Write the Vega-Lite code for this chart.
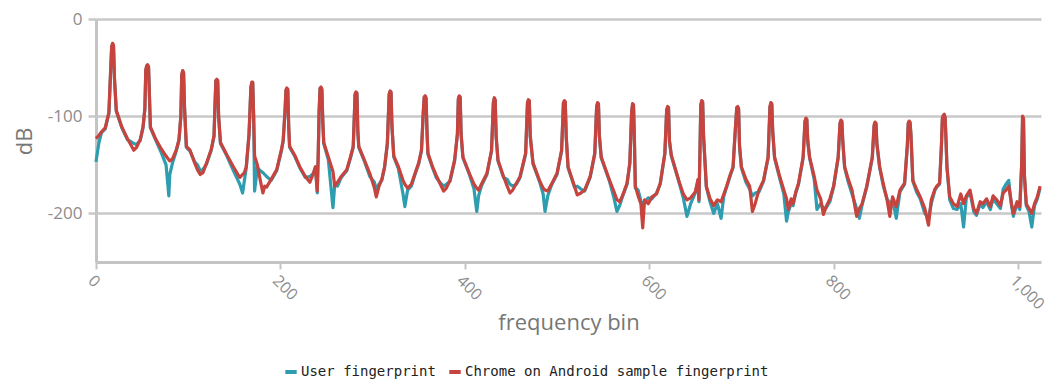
{
  "$schema": "https://vega.github.io/schema/vega-lite/v6.json",
  "width": 945,
  "height": 243,
  "autosize": {"type": "none"},
  "padding": {"left": 96, "top": 19, "right": 10, "bottom": 118},
  "background": "white",
  "config": {"view": {"stroke": null}},
  "data": {"values": [
    {"x":0,"c":-123,"u":-147},{"x":3,"c":-120,"u":-128},{"x":6,"c":-116,"u":-117},{"x":10,"c":-112,"u":-113},{"x":14,"c":-96,"u":-97},{"x":16,"c":-50,"u":-51},{"x":17,"c":-28,"u":-29},{"x":18,"c":-25,"u":-26},{"x":19,"c":-27,"u":-28},{"x":20,"c":-60,"u":-61},{"x":22,"c":-94,"u":-95},{"x":28,"c":-111,"u":-112},{"x":34,"c":-123,"u":-124},{"x":41,"c":-135,"u":-128},{"x":44,"c":-132,"u":-129},{"x":48,"c":-124,"u":-125},
    {"x":51,"c":-111,"u":-112},{"x":53,"c":-92,"u":-93},{"x":54,"c":-52,"u":-53},{"x":55,"c":-48,"u":-49},{"x":56,"c":-47,"u":-48},{"x":57,"c":-49,"u":-50},{"x":58,"c":-80,"u":-81},{"x":59,"c":-111,"u":-112},{"x":65,"c":-124,"u":-125},{"x":71,"c":-134,"u":-138},{"x":76,"c":-141,"u":-150},{"x":79,"c":-145,"u":-182},{"x":80,"c":-146,"u":-160},{"x":83,"c":-144,"u":-148},{"x":87,"c":-135,"u":-136},
    {"x":90,"c":-124,"u":-125},{"x":92,"c":-100,"u":-101},{"x":93,"c":-57,"u":-58},{"x":94,"c":-53,"u":-54},{"x":95,"c":-55,"u":-56},{"x":96,"c":-90,"u":-91},{"x":98,"c":-131,"u":-132},{"x":102,"c":-135,"u":-136},{"x":107,"c":-148,"u":-147},{"x":110,"c":-155,"u":-150},{"x":113,"c":-160,"u":-156},{"x":116,"c":-158,"u":-155},{"x":120,"c":-148,"u":-149},{"x":125,"c":-134,"u":-135},
    {"x":128,"c":-120,"u":-121},{"x":129,"c":-90,"u":-91},{"x":130,"c":-63,"u":-64},{"x":131,"c":-62,"u":-63},{"x":132,"c":-63,"u":-64},{"x":133,"c":-100,"u":-101},{"x":135,"c":-127,"u":-128},{"x":142,"c":-140,"u":-141},{"x":149,"c":-152,"u":-156},{"x":154,"c":-160,"u":-166},{"x":156,"c":-163,"u":-170},{"x":159,"c":-160,"u":-179},{"x":161,"c":-158,"u":-166},{"x":163,"c":-152,"u":-153},
    {"x":166,"c":-118,"u":-119},{"x":168,"c":-70,"u":-71},{"x":169,"c":-65,"u":-66},{"x":170,"c":-65,"u":-66},{"x":171,"c":-100,"u":-101},{"x":172,"c":-141,"u":-177},{"x":175,"c":-150,"u":-153},{"x":178,"c":-165,"u":-156},{"x":181,"c":-179,"u":-158},{"x":183,"c":-172,"u":-160},{"x":185,"c":-173,"u":-162},{"x":190,"c":-165,"u":-166},{"x":196,"c":-155,"u":-156},{"x":201,"c":-135,"u":-136},
    {"x":203,"c":-125,"u":-126},{"x":205,"c":-95,"u":-96},{"x":206,"c":-73,"u":-74},{"x":207,"c":-71,"u":-72},{"x":208,"c":-72,"u":-73},{"x":209,"c":-110,"u":-111},{"x":210,"c":-131,"u":-132},{"x":216,"c":-141,"u":-142},{"x":221,"c":-152,"u":-153},{"x":227,"c":-162,"u":-163},{"x":232,"c":-168,"u":-162},{"x":236,"c":-158,"u":-159},{"x":238,"c":-152,"u":-153},{"x":240,"c":-177,"u":-179},
    {"x":241,"c":-140,"u":-141},{"x":242,"c":-95,"u":-96},{"x":243,"c":-71,"u":-72},{"x":244,"c":-70,"u":-71},{"x":245,"c":-72,"u":-73},{"x":246,"c":-105,"u":-106},{"x":247,"c":-127,"u":-128},{"x":252,"c":-142,"u":-145},{"x":257,"c":-157,"u":-194},{"x":259,"c":-172,"u":-170},{"x":262,"c":-168,"u":-172},{"x":266,"c":-162,"u":-163},{"x":272,"c":-155,"u":-156},{"x":276,"c":-142,"u":-143},
    {"x":279,"c":-131,"u":-132},{"x":280,"c":-105,"u":-106},{"x":281,"c":-77,"u":-78},{"x":282,"c":-75,"u":-76},{"x":283,"c":-76,"u":-77},{"x":284,"c":-115,"u":-116},{"x":285,"c":-131,"u":-132},{"x":291,"c":-145,"u":-146},{"x":297,"c":-159,"u":-162},{"x":302,"c":-174,"u":-168},{"x":304,"c":-183,"u":-175},{"x":307,"c":-172,"u":-170},{"x":310,"c":-165,"u":-166},{"x":313,"c":-152,"u":-153},
    {"x":316,"c":-128,"u":-129},{"x":318,"c":-77,"u":-78},{"x":319,"c":-74,"u":-75},{"x":320,"c":-75,"u":-76},{"x":321,"c":-110,"u":-111},{"x":323,"c":-141,"u":-142},{"x":328,"c":-152,"u":-154},{"x":333,"c":-166,"u":-180},{"x":335,"c":-170,"u":-193},{"x":338,"c":-174,"u":-176},{"x":342,"c":-170,"u":-172},{"x":346,"c":-159,"u":-160},{"x":350,"c":-148,"u":-149},{"x":353,"c":-135,"u":-136},
    {"x":355,"c":-95,"u":-96},{"x":356,"c":-80,"u":-81},{"x":357,"c":-79,"u":-80},{"x":358,"c":-81,"u":-82},{"x":359,"c":-115,"u":-116},{"x":360,"c":-138,"u":-139},{"x":365,"c":-152,"u":-153},{"x":369,"c":-161,"u":-163},{"x":373,"c":-169,"u":-168},{"x":377,"c":-177,"u":-172},{"x":380,"c":-174,"u":-170},{"x":384,"c":-166,"u":-167},{"x":389,"c":-145,"u":-146},
    {"x":392,"c":-118,"u":-119},{"x":393,"c":-82,"u":-83},{"x":394,"c":-79,"u":-80},{"x":395,"c":-80,"u":-81},{"x":396,"c":-118,"u":-119},{"x":398,"c":-142,"u":-143},{"x":405,"c":-159,"u":-160},{"x":410,"c":-170,"u":-175},{"x":413,"c":-174,"u":-198},{"x":415,"c":-176,"u":-182},{"x":418,"c":-170,"u":-172},{"x":424,"c":-159,"u":-160},{"x":429,"c":-135,"u":-136},
    {"x":431,"c":-86,"u":-87},{"x":432,"c":-81,"u":-82},{"x":433,"c":-83,"u":-84},{"x":434,"c":-120,"u":-121},{"x":436,"c":-145,"u":-146},{"x":442,"c":-162,"u":-163},{"x":446,"c":-172,"u":-165},{"x":449,"c":-179,"u":-170},{"x":452,"c":-176,"u":-172},{"x":456,"c":-169,"u":-170},{"x":460,"c":-162,"u":-163},{"x":466,"c":-138,"u":-139},
    {"x":468,"c":-86,"u":-87},{"x":469,"c":-83,"u":-84},{"x":470,"c":-84,"u":-85},{"x":471,"c":-120,"u":-121},{"x":474,"c":-148,"u":-149},{"x":481,"c":-166,"u":-167},{"x":485,"c":-174,"u":-180},{"x":487,"c":-176,"u":-198},{"x":490,"c":-177,"u":-182},{"x":494,"c":-170,"u":-171},{"x":500,"c":-159,"u":-160},{"x":505,"c":-135,"u":-136},
    {"x":507,"c":-86,"u":-87},{"x":508,"c":-84,"u":-85},{"x":509,"c":-85,"u":-86},{"x":510,"c":-120,"u":-121},{"x":512,"c":-152,"u":-153},{"x":519,"c":-172,"u":-173},{"x":522,"c":-181,"u":-172},{"x":526,"c":-179,"u":-175},{"x":530,"c":-176,"u":-177},{"x":536,"c":-162,"u":-163},{"x":541,"c":-138,"u":-139},
    {"x":543,"c":-90,"u":-91},{"x":544,"c":-86,"u":-87},{"x":545,"c":-87,"u":-88},{"x":546,"c":-120,"u":-121},{"x":548,"c":-142,"u":-143},{"x":557,"c":-166,"u":-167},{"x":562,"c":-178,"u":-185},{"x":565,"c":-186,"u":-198},{"x":568,"c":-188,"u":-192},{"x":571,"c":-182,"u":-183},{"x":576,"c":-169,"u":-170},{"x":579,"c":-148,"u":-149},
    {"x":581,"c":-95,"u":-96},{"x":582,"c":-87,"u":-88},{"x":583,"c":-88,"u":-89},{"x":584,"c":-125,"u":-126},{"x":585,"c":-172,"u":-174},{"x":588,"c":-182,"u":-176},{"x":591,"c":-190,"u":-187},{"x":593,"c":-215,"u":-190},{"x":595,"c":-186,"u":-188},{"x":599,"c":-190,"u":-184},{"x":603,"c":-183,"u":-185},{"x":608,"c":-180,"u":-179},{"x":612,"c":-169,"u":-170},{"x":617,"c":-138,"u":-139},
    {"x":619,"c":-93,"u":-94},{"x":620,"c":-90,"u":-91},{"x":621,"c":-91,"u":-92},{"x":622,"c":-125,"u":-126},{"x":624,"c":-140,"u":-141},{"x":633,"c":-169,"u":-170},{"x":637,"c":-180,"u":-184},{"x":641,"c":-186,"u":-203},{"x":645,"c":-184,"u":-190},{"x":650,"c":-178,"u":-179},{"x":653,"c":-165,"u":-166},{"x":654,"c":-186,"u":-188},
    {"x":655,"c":-140,"u":-141},{"x":656,"c":-88,"u":-89},{"x":657,"c":-84,"u":-85},{"x":658,"c":-85,"u":-86},{"x":659,"c":-120,"u":-121},{"x":662,"c":-172,"u":-173},{"x":666,"c":-185,"u":-188},{"x":670,"c":-192,"u":-200},{"x":674,"c":-186,"u":-190},{"x":678,"c":-188,"u":-205},{"x":681,"c":-180,"u":-182},{"x":684,"c":-172,"u":-173},{"x":688,"c":-160,"u":-161},{"x":691,"c":-152,"u":-153},
    {"x":693,"c":-120,"u":-121},{"x":695,"c":-91,"u":-92},{"x":696,"c":-90,"u":-91},{"x":697,"c":-92,"u":-93},{"x":698,"c":-130,"u":-131},{"x":700,"c":-152,"u":-153},{"x":705,"c":-165,"u":-168},{"x":709,"c":-172,"u":-175},{"x":712,"c":-198,"u":-182},{"x":715,"c":-190,"u":-179},{"x":719,"c":-176,"u":-178},{"x":724,"c":-166,"u":-167},{"x":729,"c":-142,"u":-143},
    {"x":731,"c":-90,"u":-91},{"x":732,"c":-86,"u":-87},{"x":733,"c":-87,"u":-88},{"x":734,"c":-115,"u":-116},{"x":736,"c":-142,"u":-143},{"x":741,"c":-160,"u":-162},{"x":746,"c":-176,"u":-180},{"x":749,"c":-185,"u":-208},{"x":751,"c":-196,"u":-198},{"x":754,"c":-185,"u":-190},{"x":756,"c":-190,"u":-192},{"x":759,"c":-178,"u":-179},{"x":762,"c":-169,"u":-170},{"x":767,"c":-142,"u":-143},
    {"x":769,"c":-105,"u":-106},{"x":770,"c":-102,"u":-103},{"x":771,"c":-103,"u":-104},{"x":772,"c":-125,"u":-126},{"x":774,"c":-142,"u":-143},{"x":779,"c":-162,"u":-165},{"x":782,"c":-176,"u":-196},{"x":786,"c":-185,"u":-190},{"x":789,"c":-201,"u":-195},{"x":792,"c":-193,"u":-194},{"x":796,"c":-185,"u":-188},{"x":800,"c":-172,"u":-173},{"x":805,"c":-142,"u":-143},
    {"x":807,"c":-107,"u":-108},{"x":808,"c":-104,"u":-105},{"x":809,"c":-105,"u":-106},{"x":810,"c":-125,"u":-126},{"x":812,"c":-152,"u":-153},{"x":816,"c":-165,"u":-168},{"x":820,"c":-176,"u":-180},{"x":825,"c":-203,"u":-195},{"x":828,"c":-195,"u":-205},{"x":831,"c":-190,"u":-191},{"x":836,"c":-172,"u":-173},{"x":842,"c":-142,"u":-143},
    {"x":844,"c":-109,"u":-110},{"x":845,"c":-106,"u":-107},{"x":846,"c":-107,"u":-108},{"x":847,"c":-128,"u":-129},{"x":850,"c":-152,"u":-153},{"x":854,"c":-170,"u":-172},{"x":858,"c":-186,"u":-185},{"x":861,"c":-203,"u":-190},{"x":864,"c":-183,"u":-186},{"x":868,"c":-193,"u":-205},{"x":872,"c":-176,"u":-178},{"x":877,"c":-169,"u":-170},{"x":880,"c":-130,"u":-131},
    {"x":881,"c":-107,"u":-108},{"x":882,"c":-105,"u":-106},{"x":883,"c":-106,"u":-107},{"x":884,"c":-120,"u":-121},{"x":886,"c":-166,"u":-167},{"x":890,"c":-175,"u":-178},{"x":894,"c":-183,"u":-185},{"x":899,"c":-195,"u":-200},{"x":903,"c":-212,"u":-205},{"x":906,"c":-186,"u":-190},{"x":910,"c":-175,"u":-176},{"x":912,"c":-172,"u":-173},{"x":915,"c":-169,"u":-170},{"x":917,"c":-130,"u":-131},
    {"x":918,"c":-102,"u":-103},{"x":919,"c":-99,"u":-100},{"x":920,"c":-98,"u":-99},{"x":921,"c":-101,"u":-102},{"x":922,"c":-125,"u":-126},{"x":923,"c":-152,"u":-153},{"x":926,"c":-183,"u":-186},{"x":930,"c":-190,"u":-195},{"x":934,"c":-193,"u":-196},{"x":938,"c":-180,"u":-190},{"x":941,"c":-190,"u":-214},{"x":944,"c":-182,"u":-184},{"x":948,"c":-176,"u":-178},{"x":952,"c":-195,"u":-198},
    {"x":955,"c":-200,"u":-202},{"x":959,"c":-188,"u":-190},{"x":962,"c":-190,"u":-194},{"x":966,"c":-185,"u":-188},{"x":970,"c":-193,"u":-196},{"x":973,"c":-182,"u":-185},{"x":977,"c":-186,"u":-190},{"x":981,"c":-192,"u":-195},{"x":984,"c":-179,"u":-175},{"x":987,"c":-176,"u":-170},{"x":990,"c":-172,"u":-166},{"x":993,"c":-190,"u":-192},{"x":995,"c":-200,"u":-203},
    {"x":999,"c":-188,"u":-190},{"x":1002,"c":-193,"u":-196},{"x":1004,"c":-150,"u":-151},{"x":1005,"c":-100,"u":-101},{"x":1006,"c":-102,"u":-103},{"x":1007,"c":-160,"u":-161},{"x":1009,"c":-190,"u":-192},{"x":1012,"c":-195,"u":-198},{"x":1015,"c":-200,"u":-214},{"x":1018,"c":-190,"u":-192},{"x":1021,"c":-183,"u":-185},{"x":1024,"c":-172,"u":-174}
  ]},
  "encoding": {
    "x": {
      "field": "x", "type": "quantitative",
      "scale": {"domain": [0, 1025], "nice": false, "zero": false},
      "axis": {
        "title": "frequency bin", "values": [0, 200, 400, 600, 800, 1000], "format": ",d",
        "grid": false, "labelAngle": 45, "labelAlign": "left", "labelBaseline": "top",
        "labelFont": "Open Sans", "labelFontSize": 16, "labelColor": "#8c8c8c", "labelPadding": 3,
        "domainColor": "#c4c4c4", "domainWidth": 3, "tickColor": "#c4c4c4", "tickWidth": 2, "tickSize": 7,
        "titleFont": "Open Sans", "titleFontSize": 22, "titleFontWeight": "normal", "titleColor": "#777777",
        "titleY": 60, "titleBaseline": "middle"
      }
    }
  },
  "layer": [
    {
      "mark": {"type": "line", "strokeWidth": 3.2, "strokeJoin": "round"},
      "encoding": {
        "y": {
          "field": "u", "type": "quantitative",
          "scale": {"domain": [-250, 0], "nice": false},
          "axis": {
            "title": "dB", "values": [0, -100, -200], "labelExpr": "datum.value == 0 ? '0' : '-' + abs(datum.value)",
            "grid": true, "gridColor": "#c8c8c8", "gridWidth": 2.5,
            "domainColor": "#c4c4c4", "domainWidth": 3, "tickColor": "#c8c8c8", "tickWidth": 2.5, "tickSize": 8,
            "labelFont": "Open Sans", "labelFontSize": 17, "labelColor": "#8c8c8c", "labelPadding": 6,
            "titleFont": "Open Sans", "titleFontSize": 22, "titleFontWeight": "normal", "titleColor": "#777777",
            "titleX": -72, "titleY": 122, "titleAngle": -90, "titleAlign": "center", "titleBaseline": "middle"
          }
        },
        "color": {
          "datum": "User fingerprint",
          "scale": {"domain": ["User fingerprint", "Chrome on Android sample fingerprint"], "range": ["#2e9db0", "#c6433e"]},
          "legend": {
            "orient": "none", "legendX": 187, "legendY": 345, "direction": "horizontal", "title": null,
            "symbolType": "stroke", "symbolStrokeWidth": 4, "symbolSize": 130, "labelOffset": 2, "columnPadding": 5,
            "labelFont": "DejaVu Sans Mono", "labelFontSize": 14, "labelColor": "#222222", "labelLimit": 500
          }
        }
      }
    },
    {
      "mark": {"type": "line", "strokeWidth": 3.2, "strokeJoin": "round"},
      "encoding": {
        "y": {
          "field": "c", "type": "quantitative",
          "scale": {"domain": [-250, 0], "nice": false},
          "axis": {
            "title": "dB", "values": [0, -100, -200], "labelExpr": "datum.value == 0 ? '0' : '-' + abs(datum.value)",
            "grid": true, "gridColor": "#c8c8c8", "gridWidth": 2.5,
            "domainColor": "#c4c4c4", "domainWidth": 3, "tickColor": "#c8c8c8", "tickWidth": 2.5, "tickSize": 8,
            "labelFont": "Open Sans", "labelFontSize": 17, "labelColor": "#8c8c8c", "labelPadding": 6,
            "titleFont": "Open Sans", "titleFontSize": 22, "titleFontWeight": "normal", "titleColor": "#777777",
            "titleX": -72, "titleY": 122, "titleAngle": -90, "titleAlign": "center", "titleBaseline": "middle"
          }
        },
        "color": {"datum": "Chrome on Android sample fingerprint"}
      }
    }
  ]
}
